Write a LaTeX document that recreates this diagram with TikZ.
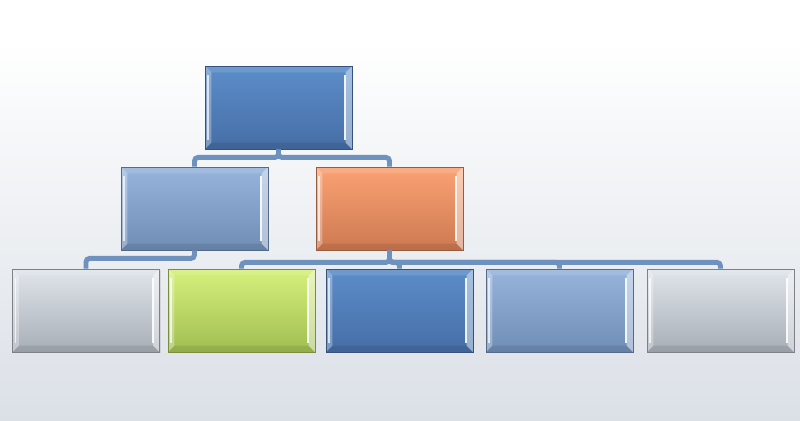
\documentclass[tikz,border=0pt]{standalone}
\usetikzlibrary{calc,shadows}
\definecolor{bgbot}{RGB}{219,224,231}
\definecolor{linkblue}{RGB}{110,145,190}
\definecolor{navytop}{RGB}{92,141,201}
\definecolor{navybot}{RGB}{70,110,166}
\definecolor{skytop}{RGB}{150,180,220}
\definecolor{skybot}{RGB}{112,141,182}
\definecolor{peachtop}{RGB}{251,162,116}
\definecolor{peachbot}{RGB}{206,121,82}
\definecolor{greytop}{RGB}{224,229,235}
\definecolor{greybot}{RGB}{168,174,182}
\definecolor{limetop}{RGB}{214,240,122}
\definecolor{limebot}{RGB}{160,190,82}
\tikzset{ box_style/.style 2 args = { rectangle % bevelled box
        , minimum width = 2.94cm
        , minimum height = 1.66cm
        , inner sep = 0pt
        , top color = #1
        , bottom color = #2
        , draw = #2!75!black
        , line width = 0.5pt
        , drop shadow = {opacity=.2, shadow xshift=0.6pt, shadow yshift=-0.8pt}
        , path picture = {
            \path (path picture bounding box.north west) coordinate (pnw)
                  (path picture bounding box.north east) coordinate (pne)
                  (path picture bounding box.south west) coordinate (psw)
                  (path picture bounding box.south east) coordinate (pse);
            \fill[white, opacity=.12] (pnw) -- (pne) -- ([shift={(-3.6pt,-3.6pt)}]pne) -- ([shift={(3.6pt,-3.6pt)}]pnw) -- cycle;
            \fill[white, opacity=.3] (pnw) -- ([shift={(3.6pt,-3.6pt)}]pnw) -- ([shift={(3.6pt,3.6pt)}]psw) -- (psw) -- cycle;
            \fill[white, opacity=.45] (pne) -- ([shift={(-3.6pt,-3.6pt)}]pne) -- ([shift={(-3.6pt,3.6pt)}]pse) -- (pse) -- cycle;
            \fill[black, opacity=.09] (psw) -- ([shift={(3.6pt,3.6pt)}]psw) -- ([shift={(-3.6pt,3.6pt)}]pse) -- (pse) -- cycle;
            \draw[white, line width=1pt, opacity=.9] ([shift={(-3.8pt,-5pt)}]pne) -- ([shift={(-3.8pt,5pt)}]pse);
            \draw[white, line width=.8pt, opacity=.7] ([shift={(1.8pt,-5pt)}]pnw) -- ([shift={(1.8pt,5pt)}]psw);
          }
        }
        , link_style/.style = { draw = linkblue % connector
        , line width = 2.8pt
        , rounded corners = 2pt
        }
        }

\begin{document}
\begin{tikzpicture}[x=0.02cm, y=-0.02cm]
        % background
        \fill[white] (0,0) rectangle (800,40);
        \shade[top color=white, bottom color=bgbot] (0,40) rectangle (800,420);
        \useasboundingbox (0,0) rectangle (800,420);

        \node [box_style={navytop}{navybot}](top) at (278.5,107.5) {};
        \node [box_style={skytop}{skybot}](mid1) at (194.5,208.5) {};
        \node [box_style={peachtop}{peachbot}](mid2) at (389.5,208.5) {};
        \node [box_style={greytop}{greybot}](low1) at (86,310.5) {};
        \node [box_style={limetop}{limebot}](low2) at (241.5,310.5) {};
        \node [box_style={navytop}{navybot}](low3) at (399.5,310.5) {};
        \node [box_style={skytop}{skybot}](low4) at (559.5,310.5) {};
        \node [box_style={greytop}{greybot}](low5) at (720.5,310.5) {};

        \draw [link_style] (top.south) -- ++(0,8) -| (mid1.north);
        \draw [link_style] (top.south) -- ++(0,8) -| (mid2.north);
        \draw [link_style] (mid1.south) -- ++(0,8) -| (low1.north);
        \foreach \k in {2,...,5}
            \draw [link_style] (mid2.south) -- ++(0,12) -| (low\k.north);
\end{tikzpicture}
\end{document}
